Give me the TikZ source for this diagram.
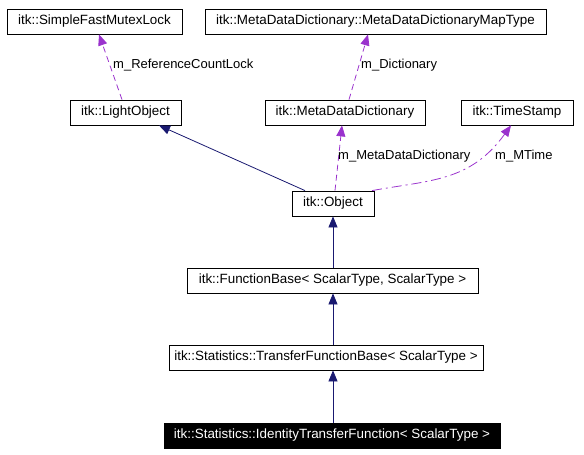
\documentclass[tikz,border=0pt]{standalone}
\usepackage{fontspec}
\setmainfont{Liberation Sans}
\usetikzlibrary{arrows.meta}
\definecolor{navy}{RGB}{25,25,112}
\definecolor{orchid}{RGB}{154,50,205}
\tikzset{
  box/.style={draw=black, fill=white, line width=0.8pt, minimum height=25pt, inner sep=0pt, font=\fontsize{13.4}{15}\selectfont},
  cur/.style={box, fill=black, text=white},
  inherit/.style={draw=navy, line width=0.8pt, -{Triangle[length=11pt,width=9pt]}, color=navy},
  use/.style={draw=orchid, line width=0.8pt, dash pattern=on 6pt off 4pt, -{Triangle[length=11pt,width=9pt]}, color=orchid},
  lbl/.style={font=\fontsize{13}{15}\selectfont, anchor=west, inner sep=0pt}
}
\begin{document}
\begin{tikzpicture}[x=1pt,y=-1pt]
\useasboundingbox (0,0) rectangle (584,455);
\node[box, minimum width=175pt] (slock) at (94.5,21.5) {itk::SimpleFastMutexLock};
\node[box, minimum width=341pt] (mapt) at (375.5,21.5) {itk::MetaDataDictionary::MetaDataDictionaryMapType};
\node[box, minimum width=111pt] (light) at (125.5,112.5) {itk::LightObject};
\node[box, minimum width=160pt] (mdd) at (345,112.5) {itk::MetaDataDictionary};
\node[box, minimum width=112pt] (ts) at (517,112.5) {itk::TimeStamp};
\node[box, minimum width=82pt] (obj) at (333,203.5) {itk::Object};
\node[box, minimum width=291pt] (fb) at (332.5,280.5) {itk::FunctionBase< ScalarType, ScalarType >};
\node[box, minimum width=314pt] (tfb) at (326,357.5) {itk::Statistics::TransferFunctionBase< ScalarType >};
\node[cur, minimum width=336pt] (itf) at (332,435.5) {itk::Statistics::IdentityTransferFunction< ScalarType >};

\draw[inherit] (itf.north -| 333,0) -- (tfb.south -| 333,0);
\draw[inherit] (tfb.north -| 333,0) -- (fb.south -| 333,0);
\draw[inherit] (fb.north -| 333,0) -- (obj.south -| 333,0);
\draw[inherit] (obj.north -| 305,0) -- (light.south -| 159,0);

\draw[use] (light.north -| 122,0) -- (slock.south -| 99,0);
\draw[use] (mdd.north -| 349,0) -- (mapt.south -| 368,0);
\draw[use] (obj.north -| 335,0) -- (mdd.south -| 342,0);
\draw[use, dash pattern=on 10pt off 4pt on 2pt off 4pt] (obj.north -| 372,0) .. controls (430,180) and (470,182) .. (ts.south -| 511,0);

\node[lbl] (l1) at (113,65) {m\_ReferenceCountLock};
\node[lbl] (l2) at (361,65) {m\_Dictionary};
\node[lbl] (l3) at (338,156) {m\_MetaDataDictionary};
\node[lbl] (l4) at (495,156) {m\_MTime};
\end{tikzpicture}
\end{document}
